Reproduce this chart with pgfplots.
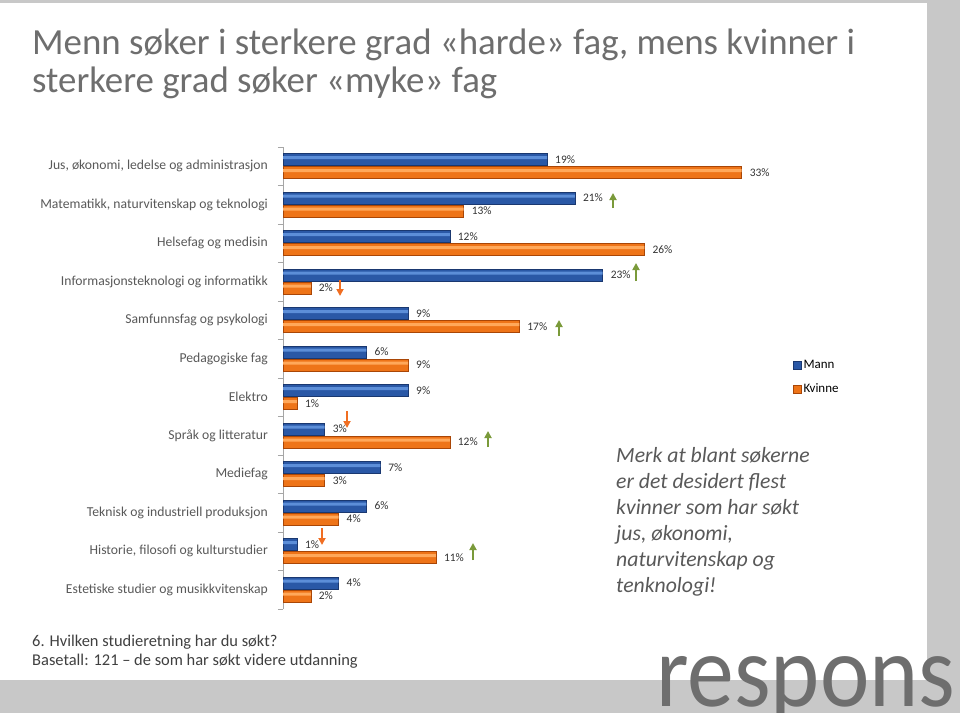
\documentclass[border=0pt]{standalone}
\usepackage{pgfplots}
\pgfplotsset{compat=1.18}
\usepackage{fontspec}
\setmainfont{Carlito}
\usetikzlibrary{arrows.meta}
\definecolor{framegray}{HTML}{C8C8C8}
\definecolor{titlegray}{HTML}{6E6E6E}
\definecolor{labgray}{HTML}{595959}
\definecolor{axgray}{HTML}{A6A6A6}
\definecolor{bdark}{HTML}{1A3870}
\definecolor{bmid}{HTML}{2A58A6}
\definecolor{blight}{HTML}{5C8ED8}
\definecolor{odark}{HTML}{A94606}
\definecolor{omid}{HTML}{EE7418}
\definecolor{olight}{HTML}{FFA85A}
\definecolor{upgreen}{HTML}{7A9A3A}
\definecolor{downor}{HTML}{F06E22}
\begin{document}
\begin{tikzpicture}
\useasboundingbox (0,0) rectangle (960bp,-713bp);
\fill[framegray] (0,0) rectangle (960bp,-713bp);
\fill[white] (0,-3bp) rectangle (927bp,-680bp);
% title
\node[anchor=base west, inner sep=0pt, text=titlegray, font=\fontsize{37}{38}\selectfont] at (32bp,-54bp) {Menn søker i sterkere grad «harde» fag, mens kvinner i};
\node[anchor=base west, inner sep=0pt, text=titlegray, font=\fontsize{37}{38}\selectfont] at (32bp,-92bp) {sterkere grad søker «myke» fag};
\begin{axis}[
  at={(283bp,-146.75bp)}, anchor=north west,
  scale only axis, width=486.5bp, height=462bp,
  xmin=0, xmax=35, ymin=-0.5, ymax=11.5,
  axis x line=none,
  axis y line*=left,
  axis line style={-, draw=axgray},
  xbar, bar width=12bp,
  clip=false,
  /pgf/number format/assume math mode=true,
  ytick={0,...,11},
  yticklabels={Estetiske studier og musikkvitenskap, {Historie, filosofi og kulturstudier}, Teknisk og industriell produksjon, Mediefag, Språk og litteratur, Elektro, Pedagogiske fag, Samfunnsfag og psykologi, Informasjonsteknologi og informatikk, Helsefag og medisin, {Matematikk, naturvitenskap og teknologi}, {Jus, økonomi, ledelse og administrasjon}},
  minor ytick={-0.5,0.5,...,11.5},
  major tick length=0pt,
  minor tick length=5bp,
  tick align=outside,
  minor tick style={draw=axgray},
  yticklabel style={font=\fontsize{13.7}{15}\selectfont, text=labgray, inner sep=0pt, xshift=-15bp},
  point meta=x,
  valnodes/.style={
    nodes near coords={\pgfmathprintnumber{\pgfplotspointmeta}\%},
    nodes near coords align=horizontal,
    every node near coord/.append style={font=\fontsize{11.5}{13}\selectfont, text=black!80, xshift=4.5bp}},
  legend style={at={(1.048,0.543)}, anchor=north west, draw=none, fill=none, font=\fontsize{13}{15}\selectfont, row sep=10bp, inner sep=0pt, nodes={inner sep=2bp}},
  legend cell align=left,
  legend image code/.code={\draw[#1, line width=0.5bp] (0bp,-4bp) rectangle (8bp,4bp);},
]
\addplot[valnodes, bar shift=6.5bp, draw=bdark, line width=0.6bp, fill=bmid] coordinates {
(19,11) (21,10) (12,9) (23,8) (9,7) (6,6) (9,5) (3,4) (7,3) (6,2) (1,1) (4,0)};
\addplot[valnodes, bar shift=-6.5bp, draw=odark, line width=0.6bp, fill=omid] coordinates {
(33,11) (13,10) (26,9) (2,8) (17,7) (9,6) (1,5) (12,4) (3,3) (4,2) (11,1) (2,0)};
\legend{Mann, Kvinne}
% highlight stripes (same data)
\addplot[forget plot, bar shift=8.5bp, bar width=3bp, draw=none, fill=blight] coordinates {
(19,11) (21,10) (12,9) (23,8) (9,7) (6,6) (9,5) (3,4) (7,3) (6,2) (1,1) (4,0)};
\addplot[forget plot, bar shift=-4.5bp, bar width=3bp, draw=none, fill=olight] coordinates {
(33,11) (13,10) (26,9) (2,8) (17,7) (9,6) (1,5) (12,4) (3,3) (4,2) (11,1) (2,0)};
\end{axis}
% arrows (annotations)
\begin{scope}[line width=1.8bp]
\draw[upgreen, -{Triangle[width=7bp,length=7bp]}] (613bp,-208bp) -- (613bp,-193bp);
\draw[upgreen, -{Triangle[width=7bp,length=7bp]}] (636bp,-281bp) -- (636bp,-263bp);
\draw[downor, -{Triangle[width=7bp,length=7bp]}] (340bp,-280bp) -- (340bp,-296bp);
\draw[upgreen, -{Triangle[width=7bp,length=7bp]}] (559bp,-336bp) -- (559bp,-320bp);
\draw[downor, -{Triangle[width=7bp,length=7bp]}] (347bp,-411bp) -- (347bp,-428bp);
\draw[upgreen, -{Triangle[width=7bp,length=7bp]}] (488bp,-447bp) -- (488bp,-431bp);
\draw[downor, -{Triangle[width=7bp,length=7bp]}] (322bp,-528bp) -- (322bp,-545bp);
\draw[upgreen, -{Triangle[width=7bp,length=7bp]}] (473bp,-560bp) -- (473bp,-543bp);
\end{scope}
% note
\begin{scope}[every node/.style={anchor=base west, inner sep=0pt, text=labgray, font=\fontsize{21.8}{24}\itshape}]
\node at (616bp,-462bp) {Merk at blant søkerne};
\node at (616bp,-488bp) {er det desidert flest};
\node at (616bp,-514bp) {kvinner som har søkt};
\node at (616bp,-540bp) {jus, økonomi,};
\node at (616bp,-566bp) {naturvitenskap og};
\node at (616bp,-592bp) {tenknologi!};
\end{scope}
% footer
\node[anchor=base west, inner sep=0pt, text=black!75, font=\fontsize{16.5}{18}\selectfont] at (32bp,-646bp) {6. Hvilken studieretning har du søkt?};
\node[anchor=base west, inner sep=0pt, text=black!75, font=\fontsize{16.5}{18}\selectfont] at (32bp,-665bp) {Basetall: 121 – de som har søkt videre utdanning};
% logo
\node[anchor=base west, inner sep=0pt, text=black!57] at (656bp,-706bp) {\scalebox{1}[1.1]{\fontsize{94}{94}\selectfont respons}};
\end{tikzpicture}
\end{document}
